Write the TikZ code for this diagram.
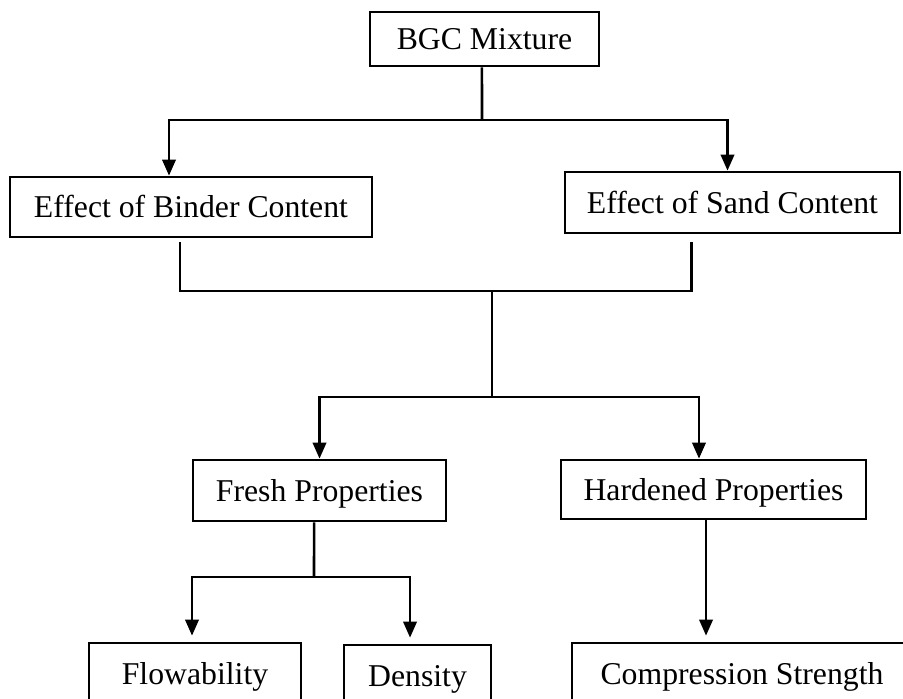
\documentclass[tikz,border=0pt]{standalone}
\usepackage{fontspec}
\setmainfont{Liberation Serif}
\usepackage{xcolor}
\usetikzlibrary{arrows.meta}

\begin{document}
\begin{tikzpicture}[x=0.75pt, y=-0.75pt]
			\tikzstyle{stage} = [draw, line width=2pt, inner sep=0pt, text height=15.8pt, text depth=0pt, font=\fontsize{23.8}{28}\selectfont]
			\tikzset{edge/.style = {line width=1.9pt, -{Triangle[length=12pt, width=10pt]}}}
			\tikzset{link/.style = {line width=1.9pt}}
			\useasboundingbox (0,0) rectangle (903,699);
			
			\node[stage, minimum width=171.75pt, minimum height=40.5pt](mix) at (484.5,39) {BGC Mixture};
			\node[stage, minimum width=271.5pt, minimum height=45pt](binder) at (191,207) {Effect of Binder Content};
			\node[stage, minimum width=251.25pt, minimum height=45.75pt](sand) at (732.5,202.5) {Effect of Sand Content};
			\coordinate (split1) at (482,120);
			\draw[link]([xshift=-1.9pt]mix.south) to (split1);
			\draw[edge](split1) -| ([xshift=-16.5pt]binder.north);
			\draw[edge](split1) -| ([xshift=-3.75pt]sand.north);
			
			\node[stage, minimum width=189.75pt, minimum height=45.75pt](fresh) at (319.5,490.5) {Fresh Properties};
			\node[stage, minimum width=228.75pt, minimum height=44.25pt](hard) at (713.5,489.5) {Hardened Properties};
			\coordinate (merge) at (492,291);
			\coordinate (split2) at (492,397);
			\draw[link]([xshift=-8.25pt, yshift=-3pt]binder.south) |- (merge);
			\draw[link]([xshift=-30.75pt, yshift=-6pt]sand.south) |- (merge);
			\draw[link](merge) to (split2);
			\draw[edge](split2) -| (fresh.north);
			\draw[edge](split2) -| ([xshift=-10.9pt]hard.north);
			
			\node[stage, minimum width=159pt, minimum height=46.5pt](flow) at (195,674) {Flowability};
			\node[stage, minimum width=110.25pt, minimum height=46.5pt](dens) at (417.5,676) {Density};
			\node[stage, minimum width=255pt, minimum height=46.5pt](comp) at (742,674) {Compression Strength};
			\coordinate (split3) at (314,577);
			\draw[link]([xshift=-4.1pt]fresh.south) to (split3);
			\draw[edge, shorten >=4.5pt](split3) -| ([xshift=-2.25pt]flow.north);
			\draw[edge, shorten >=4.5pt](split3) -| ([xshift=-5.6pt]dens.north);
			\draw[edge, shorten >=4.5pt]([xshift=-5.6pt]hard.south) to ([xshift=-5.6pt]hard.south |- comp.north);
			
			\end{tikzpicture}
\end{document}
